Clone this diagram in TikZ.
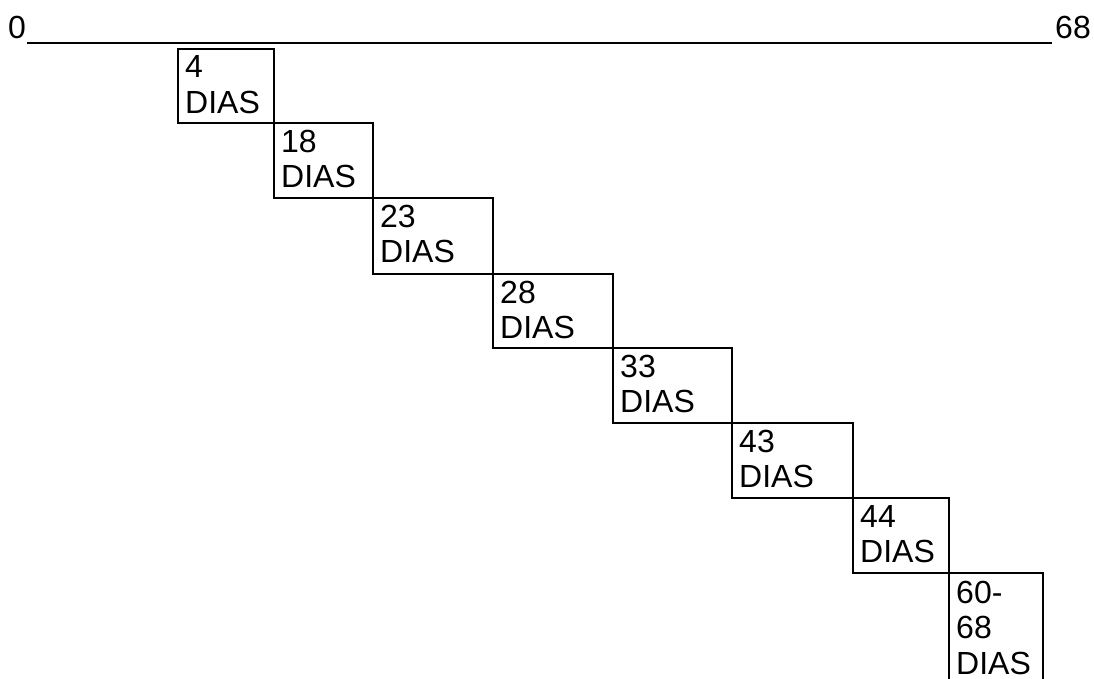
\documentclass[tikz,border=0pt]{standalone}
\usepackage{fontspec}
\setmainfont{Liberation Sans}
\begin{document}
\begin{tikzpicture}[x=1pt,y=-1pt,
  txt/.style={font=\fontsize{32}{35.5}\selectfont,inner sep=0pt,anchor=base west,align=left},
  stepbox/.style={draw,line width=2.3pt,inner sep=0pt,anchor=north west}]
\useasboundingbox (0,0) rectangle (1094,679);
% scale labels and the bar between them
\node[txt] (s0) at (8,39) {0};
\node[txt,anchor=base east] (s68) at (1091,39) {68};
\draw[line width=2.3pt] (s0.base east) ++(1,4) -- ([xshift=-3pt,yshift=-4pt]s68.base west);
% staircase of day boxes: left, top, right, bottom, label
% (a multi-line node sits on the baseline of its last line)
\foreach \n/\l/\t/\r/\b/\lab in {
  1/177/48/273/122/{4\\DIAS},
  2/273/122/372/197/{18\\DIAS},
  3/372/197/492/273/{23\\DIAS},
  4/492/273/612/347/{28\\DIAS},
  5/612/347/731/422/{33\\DIAS},
  6/731/422/852/497/{43\\DIAS},
  7/852/497/948/572/{44\\DIAS}}{
  \node[stepbox,minimum width={\r-\l},minimum height={\b-\t}] (b\n) at (\l,\t) {};
  \node[txt] (t\n) at ([xshift=8pt,yshift=-65.5pt]b\n.north west) {\lab};
}
% last box runs past the lower edge
\begin{scope}
\clip (0,0) rectangle (1094,679);
\node[stepbox,minimum width=94,minimum height=140] (b8) at (948,572) {};
\end{scope}
\node[txt] (t8) at ([xshift=8pt,yshift=-102pt]b8.north west) {60-\\68\\DIAS};
\end{tikzpicture}
\end{document}
